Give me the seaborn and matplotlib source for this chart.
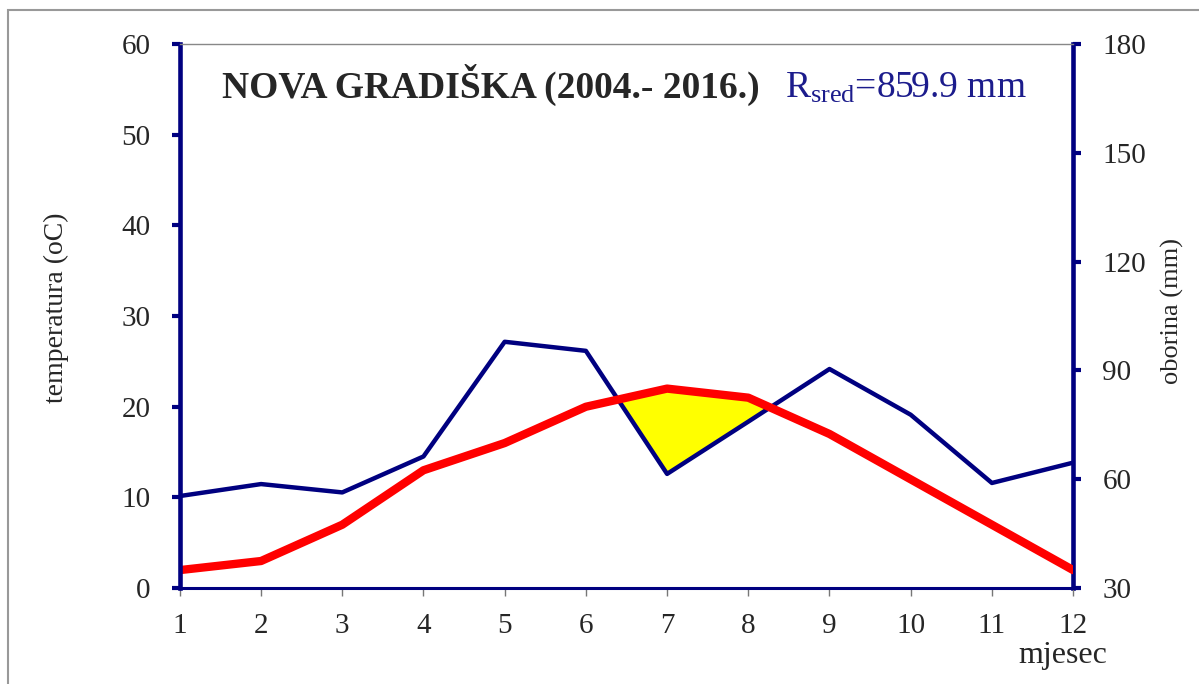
import pandas as pd
import seaborn as sns
import matplotlib.pyplot as plt
from matplotlib.patches import Rectangle

# Monthly climate data, Nova Gradiška 2004-2016
months = list(range(1, 13))
temperature = [2, 3, 7, 13, 16, 20, 22, 21, 17, 12, 7, 2]            # oC
precipitation = [55.4, 58.7, 56.4, 66.3, 97.9, 95.4, 61.5, 75.9, 90.4, 77.8, 59.0, 64.6]  # mm

title = "NOVA GRADIŠKA (2004.- 2016.)"
r_sred = 859.9

df = pd.DataFrame({"mjesec": months, "temp": temperature, "oborina": precipitation})
# Walter-Lieth scale: 10 oC <-> 25 mm, with 0 oC at 30 mm
df["temp_mm"] = 30 + 2.5 * df["temp"]

sns.set_style("ticks")
plt.rcParams["font.family"] = ["Liberation Serif", "DejaVu Serif"]
plt.rcParams["mathtext.fontset"] = "custom"
plt.rcParams["mathtext.rm"] = "Liberation Serif"

navy = "#000080"

fig = plt.figure(figsize=(11.99, 6.84), dpi=100)
ax = fig.add_axes([0.150, 0.140, 0.745, 0.796])
ax2 = ax.twinx()

# yellow area where temperature curve lies above precipitation curve
ax2.fill_between(df["mjesec"], df["oborina"], df["temp_mm"],
                 where=df["temp_mm"] >= df["oborina"], interpolate=True,
                 color="#ffff00", lw=0)
sns.lineplot(data=df, x="mjesec", y="oborina", ax=ax2, color=navy, linewidth=3.2)
sns.lineplot(data=df, x="mjesec", y="temp", ax=ax, color="#ff0000", linewidth=6)

# red line drawn above the twin axes
ax.set_zorder(ax2.get_zorder() + 1)
ax.patch.set_visible(False)

ax.set_xlim(1, 12)
ax.set_ylim(0, 60)
ax2.set_ylim(30, 180)
ax.set_xticks(months)
ax.set_yticks(range(0, 61, 10))
ax2.set_yticks(range(30, 181, 30))

ax.set_xlabel("")
ax.set_ylabel("temperatura (oC)", fontsize=20)
ax.yaxis.set_label_coords(-0.124, 0.515)
ax2.set_ylabel("oborina (mm)", fontsize=19, rotation=90)
ax2.yaxis.set_label_coords(1.098, 0.51)

# spines
ax.spines["left"].set_color(navy)
ax.spines["left"].set_linewidth(3.3)
ax.spines["bottom"].set_color(navy)
ax.spines["bottom"].set_linewidth(2.2)
ax.spines["top"].set_visible(True)
ax.spines["top"].set_color("#888888")
ax.spines["top"].set_linewidth(1)
ax.spines["right"].set_visible(False)
for s in ["left", "top", "bottom"]:
    ax2.spines[s].set_visible(False)
ax2.spines["right"].set_visible(True)
ax2.spines["right"].set_color(navy)
ax2.spines["right"].set_linewidth(3.3)

ax.tick_params(axis="y", direction="out", length=6, width=3, color=navy,
               pad=15, labelsize=21)
ax2.tick_params(axis="y", direction="out", length=6, width=3, color=navy,
                pad=15, labelsize=21)
ax.tick_params(axis="x", direction="out", length=6, width=1, color="#777777",
               pad=12, labelsize=21)

ax.text(0.047, 0.901, title, transform=ax.transAxes, fontsize=27,
        fontweight="bold", va="baseline")
ax.text(0.677, 0.901, r"$\mathregular{R_{sred}}$=" + f"{r_sred} mm",
        transform=ax.transAxes, fontsize=27, color="#1c1c8c", va="baseline")
ax.text(0.989, -0.138, "mjesec", transform=ax.transAxes, fontsize=23,
        ha="center", va="baseline")

# outer frame
fig.patches.append(Rectangle((0.0067, -0.05), 1.1, 1.035, transform=fig.transFigure,
                             fill=False, edgecolor="#999999", lw=1.5))

fig.savefig("out.png", dpi=100)
